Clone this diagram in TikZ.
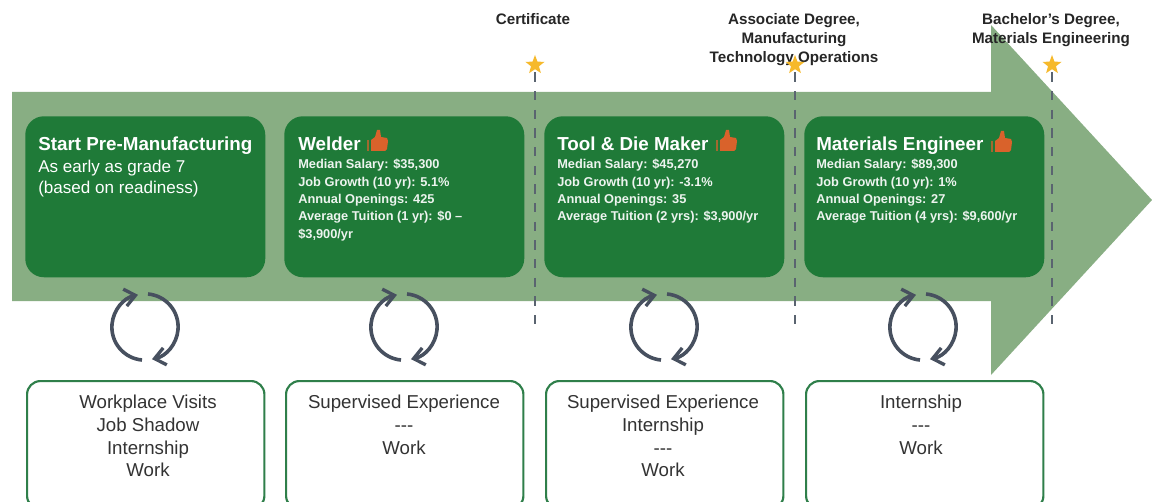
\documentclass[tikz,border=0pt]{standalone}
\usepackage{fontspec}
\setmainfont{Liberation Sans}
\usetikzlibrary{shapes.geometric,arrows.meta}
\definecolor{arrowgreen}{HTML}{88AE83}
\definecolor{cardgreen}{HTML}{1F7A38}
\definecolor{boxgreen}{HTML}{2F7F4A}
\definecolor{cyclegray}{HTML}{47505F}
\definecolor{dashgray}{HTML}{5A6470}
\definecolor{stargold}{HTML}{F6B92B}
\definecolor{thumb}{HTML}{D9622B}
\definecolor{labelgray}{HTML}{333333}
\tikzset{
  x=0.75pt,y=-0.75pt,
  card/.style={fill=cardgreen,rounded corners=14pt,minimum width=180pt,minimum height=120.75pt,anchor=north west,inner sep=0pt},
  boxcard/.style={draw=boxgreen,line width=1.6pt,fill=white,rounded corners=10pt,minimum width=178pt,minimum height=96pt,anchor=north west,inner sep=0pt},
  cardhead/.style={anchor=north west,inner sep=0pt,text=white,align=left,font=\fontsize{14.1pt}{16pt}\selectfont\bfseries},
  cardbody/.style={anchor=north west,inner sep=0pt,text=white!92!cardgreen,align=left,font=\fontsize{9.6pt}{13pt}\selectfont\bfseries},
  introbody/.style={anchor=north west,inner sep=0pt,text=white,align=left,font=\fontsize{12.8pt}{15.8pt}\selectfont},
  boxtext/.style={anchor=north,inner sep=0pt,text=labelgray,align=center,font=\fontsize{14pt}{17pt}\selectfont},
  toplabel/.style={anchor=north,inner sep=0pt,text=black!85,align=center,font=\fontsize{11.4pt}{14.3pt}\selectfont\bfseries},
  gold/.style={star,star points=5,star point ratio=2.4,fill=stargold,inner sep=0pt,minimum size=15pt},
  dashline/.style={draw=dashgray,line width=1.3pt,dash pattern=on 7pt off 7pt},
  cyc/.style={draw=cyclegray,line width=2.7pt,-{Straight Barb[length=8pt,width=13pt,line width=2.5pt]}},
}
\newcommand{\thumbicon}[2]{%
  \begin{scope}[shift={(#1,#2)}]
    \fill[thumb!70!cardgreen] (-11,-1) rectangle (-9,10);
    \fill[thumb] (-7,-1) -- (-3,-4) -- (-1,-11) -- (2,-11) -- (3,-4) -- (9,-3) -- (10,0) -- (9,8) -- (7,10) -- (-7,10) -- cycle;
  \end{scope}}
\newcommand{\cycleicon}[2]{%
  \begin{scope}[shift={(#1,#2)}]
    \draw[cyc] (-3,33) arc[start angle=95,end angle=258,radius=33];
    \draw[cyc] (3,-33) arc[start angle=-85,end angle=78,radius=33];
  \end{scope}}
\begin{document}
\begin{tikzpicture}
\useasboundingbox (0,0) rectangle (1152,502);
\clip (0,0) rectangle (1152,502);
\fill[white] (0,0) rectangle (1152,502);
% main arrow
\fill[arrowgreen] (12,92) -- (991,92) -- (991,25) -- (1152,200) -- (991,375) -- (991,301) -- (12,301) -- cycle;
% labels
\node[toplabel] (l1) at (533,13) {Certificate};
\node[toplabel] (l2) at (794,13) {Associate Degree,\\Manufacturing\\Technology Operations};
\node[toplabel] (l3) at (1051,13) {Bachelor's Degree,\\Materials Engineering};
% markers
\node[gold] (s1) at (535,65) {};
\node[gold] (s2) at (795,65) {};
\node[gold] (s3) at (1052,65) {};
\coordinate (d1) at (535,325);
\coordinate (d2) at (795,325);
\coordinate (d3) at (1052,325);
\draw[dashline] (s1.south) ++(0,3) -- (d1);
\draw[dashline] (s2.south) ++(0,3) -- (d2);
\draw[dashline] (s3.south) ++(0,3) -- (d3);
% cards
\node[card] (c1) at (25,116) {};
\node[card] (c2) at (284,116) {};
\node[card] (c3) at (544,116) {};
\node[card] (c4) at (804,116) {};
\node[cardhead] (h1) at (38,137) {Start Pre-Manufacturing};
\node[introbody] (b1) at (38,160) {As early as grade 7\\(based on readiness)};
\node[cardhead] (h2) at (298,137) {Welder};
\node[cardbody] (b2) at (298,159) {Median Salary: \$35,300\\Job Growth (10 yr): 5.1\%\\Annual Openings: 425\\Average Tuition (1 yr): \$0 –\\\$3,900/yr};
\node[cardhead] (h3) at (557,137) {Tool \& Die Maker};
\node[cardbody] (b3) at (557,159) {Median Salary: \$45,270\\Job Growth (10 yr): -3.1\%\\Annual Openings: 35\\Average Tuition (2 yrs): \$3,900/yr};
\node[cardhead] (h4) at (816,137) {Materials Engineer};
\node[cardbody] (b4) at (816,159) {Median Salary: \$89,300\\Job Growth (10 yr): 1\%\\Annual Openings: 27\\Average Tuition (4 yrs): \$9,600/yr};
\thumbicon{378}{141}
\thumbicon{727}{141}
\thumbicon{1002}{142}
% cycles
\cycleicon{145}{327}
\cycleicon{404}{327}
\cycleicon{664}{327}
\cycleicon{923}{327}
% bottom boxes
\node[boxcard] (x1) at (26,380) {};
\node[boxcard] (x2) at (285,380) {};
\node[boxcard] (x3) at (545,380) {};
\node[boxcard] (x4) at (805,380) {};
\node[boxtext] (t1) at (148,395) {Workplace Visits\\Job Shadow\\Internship\\Work};
\node[boxtext] (t2) at (404,395) {Supervised Experience\\-{}-{}-\\Work};
\node[boxtext] (t3) at (663,395) {Supervised Experience\\Internship\\-{}-{}-\\Work};
\node[boxtext] (t4) at (921,395) {Internship\\-{}-{}-\\Work};
\end{tikzpicture}
\end{document}
